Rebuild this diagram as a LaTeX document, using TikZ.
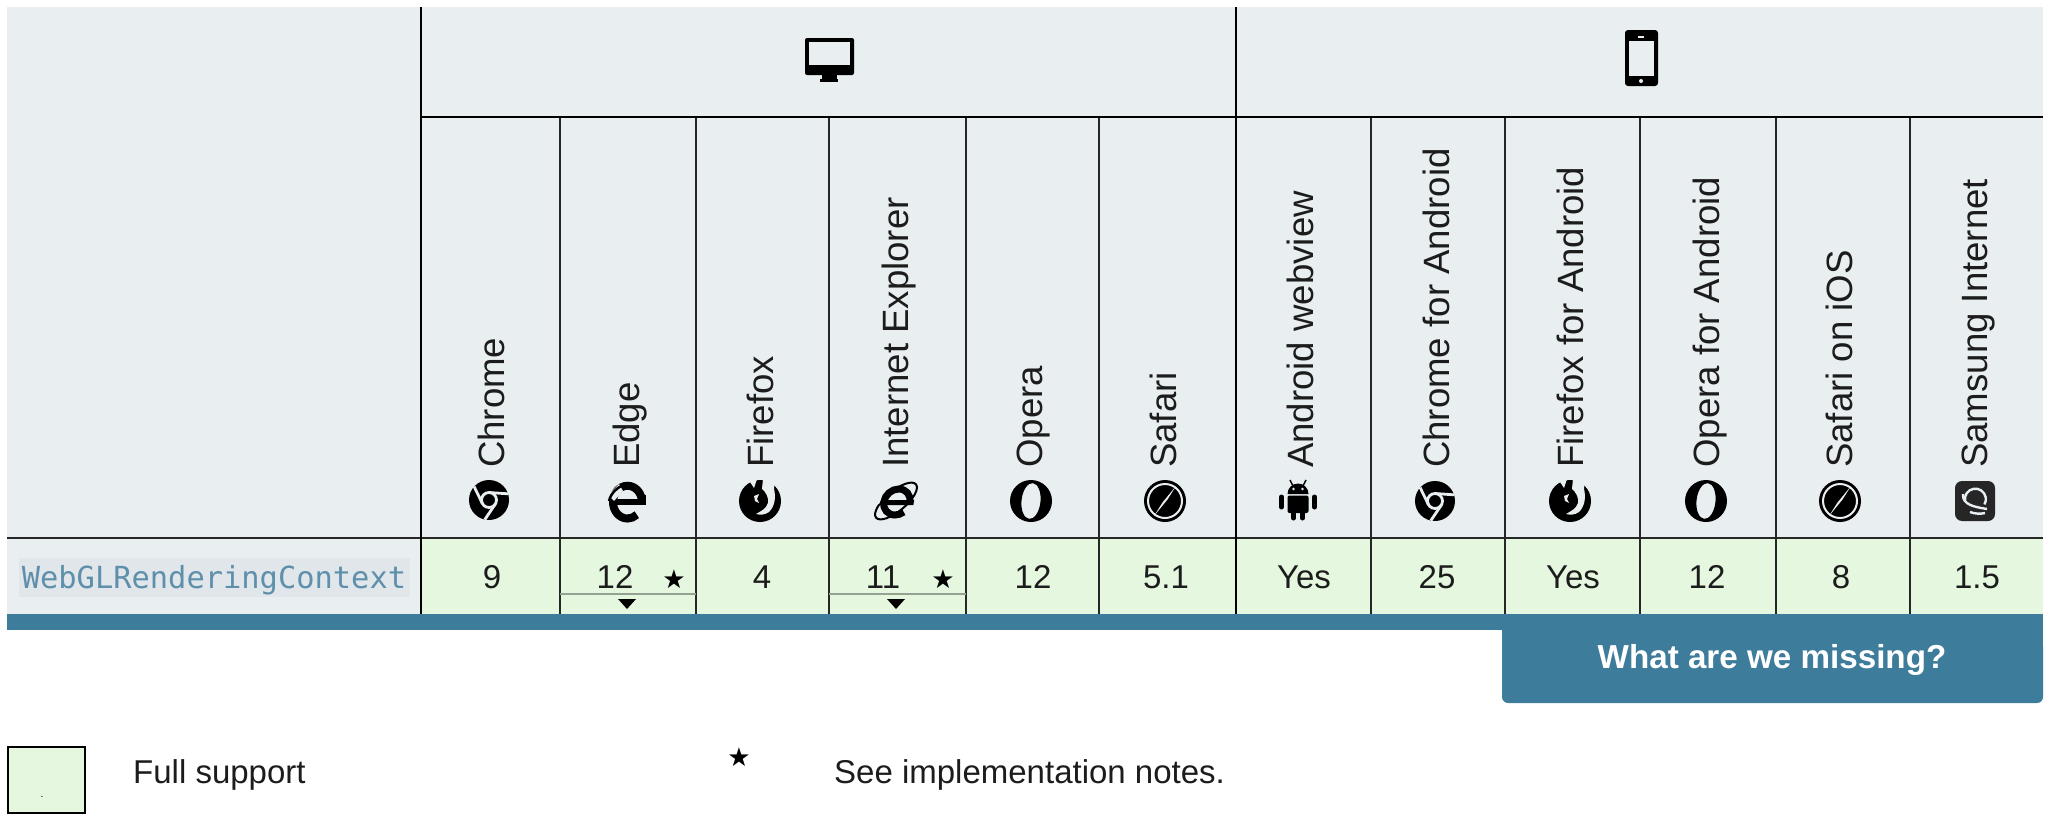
\documentclass[tikz,border=0pt]{standalone}
\usepackage{fontspec}
\setmainfont{Liberation Sans}
\newfontfamily\codefont{DejaVu Sans Mono}
\newfontfamily\starfont{DejaVu Sans}
\usetikzlibrary{positioning}
\definecolor{headgray}{HTML}{E9EEF1}
\definecolor{cellgreen}{HTML}{E5F7DF}
\definecolor{barteal}{HTML}{3E7C9C}
\definecolor{codebox}{HTML}{E1E6EA}
\definecolor{codetext}{HTML}{5E8FAB}
\definecolor{inkblack}{HTML}{1C1C1C}
\tikzset{browser/.style={rotate=90,anchor=base west,inner sep=0pt,text=inkblack,font=\fontsize{36.6}{36.6}\selectfont}}
\tikzset{version/.style={anchor=base,inner sep=0pt,text=inkblack,font=\fontsize{33}{33}\selectfont}}
\tikzset{note/.style={anchor=base west,inner sep=0pt,text=inkblack,font=\fontsize{33}{33}\selectfont}}
\tikzset{starmark/.style={anchor=base,inner sep=0pt,font=\starfont\fontsize{26}{26}\selectfont}}
\tikzset{thinrule/.style={draw=black!85,line width=1.6pt}}
\tikzset{heavyrule/.style={draw=black,line width=2.7pt}}
\tikzset{subrule/.style={draw=black!35!cellgreen,line width=1.4pt}}
\tikzset{chromepic/.pic={
    \fill[black] (0,0) circle (20);
    \draw[headgray,line width=2.8] (0,0) circle (7.5);
    \draw[headgray,line width=2.8] (90:7.5) -- (18:20);
    \draw[headgray,line width=2.8] (210:7.5) -- (138:20);
    \draw[headgray,line width=2.8] (330:7.5) -- (258:20);
}}
\tikzset{edgepic/.pic={
    \begin{scope}[yscale=1.13]
    \draw[black,line width=8] (15,-1) arc[start angle=0,end angle=310,radius=14.5];
    \fill[black] (-10,-3.5) rectangle (19,1.5);
    \fill[black] (14,-3) rectangle (19,5);
    \end{scope}
    \fill[headgray] (-19,6) -- (-8,17) -- (-4,10) -- (-13,0) -- cycle;
    \draw[black,line width=2.5] (-18,0) .. controls (-16,9) and (-8,15) .. (1,18);
}}
\tikzset{foxpic/.pic={
    \fill[black] (0,0) circle (21);
    \fill[headgray] (-12,22) -- (-6,13) -- (-3,22) -- cycle;
    \fill[headgray] (3,22) -- (15,22) -- (14,12) .. controls (16,4) and (15,-5) .. (9,-11) .. controls (5,-14) and (0,-14) .. (-4,-13) .. controls (1,-10) and (6,-8) .. (8,-2) .. controls (9,3) and (6,9) .. (2,12) -- cycle;
    \fill[headgray] (-6,5) -- (-1,7) -- (-3,2) -- (-1,-2) -- (-5,0) -- cycle;
}}
\tikzset{iepic/.pic={
    \draw[black,line width=2,rotate=40] (0,0) ellipse (26 and 10);
    \fill[headgray] (-17,-3) -- (-8,16) -- (-24,18) -- (-28,-3) -- cycle;
    \fill[headgray] (17,3) -- (8,-16) -- (24,-18) -- (28,3) -- cycle;
    \begin{scope}[xslant=0.15]
    \draw[black,line width=7] (14,-1) arc[start angle=0,end angle=310,radius=13];
    \fill[black] (-9,-4) rectangle (18,1);
    \end{scope}
}}
\tikzset{operapic/.pic={
    \fill[black,even odd rule] (0,0) circle (21) (0,0) [rotate=-6] ellipse (9.5 and 18);
}}
\tikzset{safaripic/.pic={
    \fill[black] (0,0) circle (21);
    \draw[headgray,line width=2] (0,0) circle (17);
    \fill[headgray] (11,15) -- (2.5,1.5) -- (-11,-15) -- (-2.5,-1.5) -- cycle;
}}
\tikzset{androidpic/.pic={
    \fill[black] (-10.5,6) arc[start angle=180,end angle=0,radius=10.5] -- cycle;
    \draw[black,line width=1.5] (-5,14) -- (-8,20);
    \draw[black,line width=1.5] (5,14) -- (8,20);
    \fill[headgray] (-4.5,11) circle (1.3) (4.5,11) circle (1.3);
    \fill[black,rounded corners=2] (-10.5,4.5) rectangle (10.5,-13);
    \draw[black,line width=5,line cap=round] (-16.5,3) -- (-16.5,-7);
    \draw[black,line width=5,line cap=round] (16.5,3) -- (16.5,-7);
    \draw[black,line width=5,line cap=round] (-4.5,-12) -- (-4.5,-18);
    \draw[black,line width=5,line cap=round] (4.5,-12) -- (4.5,-18);
}}
\tikzset{samsungpic/.pic={
    \fill[black!85,rounded corners=7] (-20,-20) rectangle (20,20);
    \draw[headgray,line width=2.4] (-10,0) arc[start angle=190,end angle=-30,radius=10.5];
    \draw[headgray,line width=2.4] (-12,7) .. controls (-13,-4) and (0,-6) .. (12,-8);
    \draw[headgray,line width=2.4] (-5,-11) .. controls (0,-13) and (6,-13) .. (10,-12);
}}
\tikzset{drop/.pic={
    \fill[black] (-9,5) -- (9,5) -- (0,-5) -- cycle;
}}

\begin{document}
\begin{tikzpicture}[x=1pt,y=1pt]
    \useasboundingbox (0,0) rectangle (2048,-827);

    % backgrounds
    \fill[headgray] (7,-7) rectangle (2043,-614);
    \fill[cellgreen] (421,-538) rectangle (2043,-614);
    \fill[barteal] (7,-614) rectangle (2043,-630);
    \fill[barteal,rounded corners=6] (1502,-640) rectangle (2043,-703);
    \fill[barteal] (1502,-614) rectangle (2043,-660);

    % grid
    \coordinate (topA) at (421,-7);
    \coordinate (topB) at (1236,-7);
    \coordinate (endA) at (421,-614);
    \coordinate (endB) at (1236,-614);
    \coordinate (midL) at (421,-117);
    \coordinate (midR) at (2043,-117);
    \coordinate (rowL) at (7,-538);
    \coordinate (rowR) at (2043,-538);
    \draw[thinrule] (560,-117) -- (560,-614);
    \draw[thinrule] (696,-117) -- (696,-614);
    \draw[thinrule] (829,-117) -- (829,-614);
    \draw[thinrule] (966,-117) -- (966,-614);
    \draw[thinrule] (1099,-117) -- (1099,-614);
    \draw[thinrule] (1371,-117) -- (1371,-614);
    \draw[thinrule] (1505,-117) -- (1505,-614);
    \draw[thinrule] (1640,-117) -- (1640,-614);
    \draw[thinrule] (1776,-117) -- (1776,-614);
    \draw[thinrule] (1910,-117) -- (1910,-614);
    \draw[heavyrule] (midL) -- (midR);
    \draw[thinrule,line width=2pt] (rowL) -- (rowR);
    \draw[heavyrule] (topA) -- (endA);
    \draw[heavyrule] (topB) -- (endB);
    \draw[subrule] (560,-594) -- (696,-594);
    \draw[subrule] (829,-594) -- (966,-594);

    % platform icons
    \fill[black,rounded corners=2] (805,-38) rectangle (854,-75);
    \fill[headgray] (809,-42) rectangle (850,-65);
    \fill[black] (822,-75) rectangle (837,-79);
    \fill[black] (820,-79) rectangle (838,-82);
    \fill[black,rounded corners=3] (1625,-30) rectangle (1658,-86);
    \fill[headgray] (1629,-41) rectangle (1654,-76);
    \fill[headgray] (1638,-36) rectangle (1644,-37.5);
    \fill[headgray] (1641,-81) circle (2);

    % browser names
    \node[browser] (chrome) at (504,-468) {Chrome};
    \node[browser] (edge) at (639,-468) {Edge};
    \node[browser] (firefox) at (773,-468) {Firefox};
    \node[browser] (ie) at (908,-468) {Internet Explorer};
    \node[browser] (opera) at (1042,-468) {Opera};
    \node[browser] (safari) at (1176,-468) {Safari};
    \node[browser] (webview) at (1313,-468) {Android webview};
    \node[browser] (chromeand) at (1449,-468) {Chrome for Android};
    \node[browser] (foxand) at (1583,-468) {Firefox for Android};
    \node[browser] (operaand) at (1719,-468) {Opera for Android};
    \node[browser] (ios) at (1852,-468) {Safari on iOS};
    \node[browser] (samsung) at (1987,-468) {Samsung Internet};

    % browser icons
    \pic at (489,-500) {chromepic};
    \pic at (627,-501) {edgepic};
    \pic at (760,-501) {foxpic};
    \pic at (896,-501) {iepic};
    \pic at (1031,-501) {operapic};
    \pic at (1165,-501) {safaripic};
    \pic at (1298,-500) {androidpic};
    \pic at (1435,-501) {chromepic};
    \pic at (1570,-501) {foxpic};
    \pic at (1706,-501) {operapic};
    \pic at (1840,-501) {safaripic};
    \pic at (1975,-501) {samsungpic};

    % support row
    \node[fill=codebox,inner sep=0pt,minimum width=391pt,minimum height=39pt] (apibox) at (214.5,-577.5) {};
    \node[inner sep=0pt,anchor=base,text=codetext,font=\codefont\fontsize{30.4}{30.4}\selectfont] (api) at (214,-588) {WebGLRenderingContext};
    \node[version] (vchrome) at (492,-588) {9};
    \node[version] (vedge) at (615,-588) {12};
    \node[starmark] (sedge) at (674,-588) {★};
    \node[version] (vfox) at (762,-588) {4};
    \node[version] (vie) at (883,-588) {11};
    \node[starmark] (sie) at (943,-588) {★};
    \node[version] (vopera) at (1033,-588) {12};
    \node[version] (vsafari) at (1166,-588) {5.1};
    \node[version] (vweb) at (1304,-588) {Yes};
    \node[version] (vchromeand) at (1437,-588) {25};
    \node[version] (vfoxand) at (1573,-588) {Yes};
    \node[version] (voperaand) at (1707,-588) {12};
    \node[version] (vios) at (1841,-588) {8};
    \node[version] (vsamsung) at (1977,-588) {1.5};
    \pic at (627,-604) {drop};
    \pic at (896,-604) {drop};

    % button
    \node[anchor=base,inner sep=0pt,text=white,font=\bfseries\fontsize{33.2}{33.2}\selectfont] (missing) at (1772,-668) {What are we missing?};

    % legend
    \node[draw=black,line width=2pt,fill=cellgreen,minimum width=77pt,minimum height=66pt,inner sep=0pt] (fullbox) at (46,-779.5) {};
    \node[anchor=base,inner sep=0pt,font=\fontsize{10}{10}\selectfont] (fulldot) at (42,-797) {.};
    \node[note] (fulltext) at (133,-783) {Full support};
    \node[starmark] (notestar) at (739,-766) {★};
    \node[note] (notetext) at (834,-783) {See implementation notes.};
\end{tikzpicture}
\end{document}
